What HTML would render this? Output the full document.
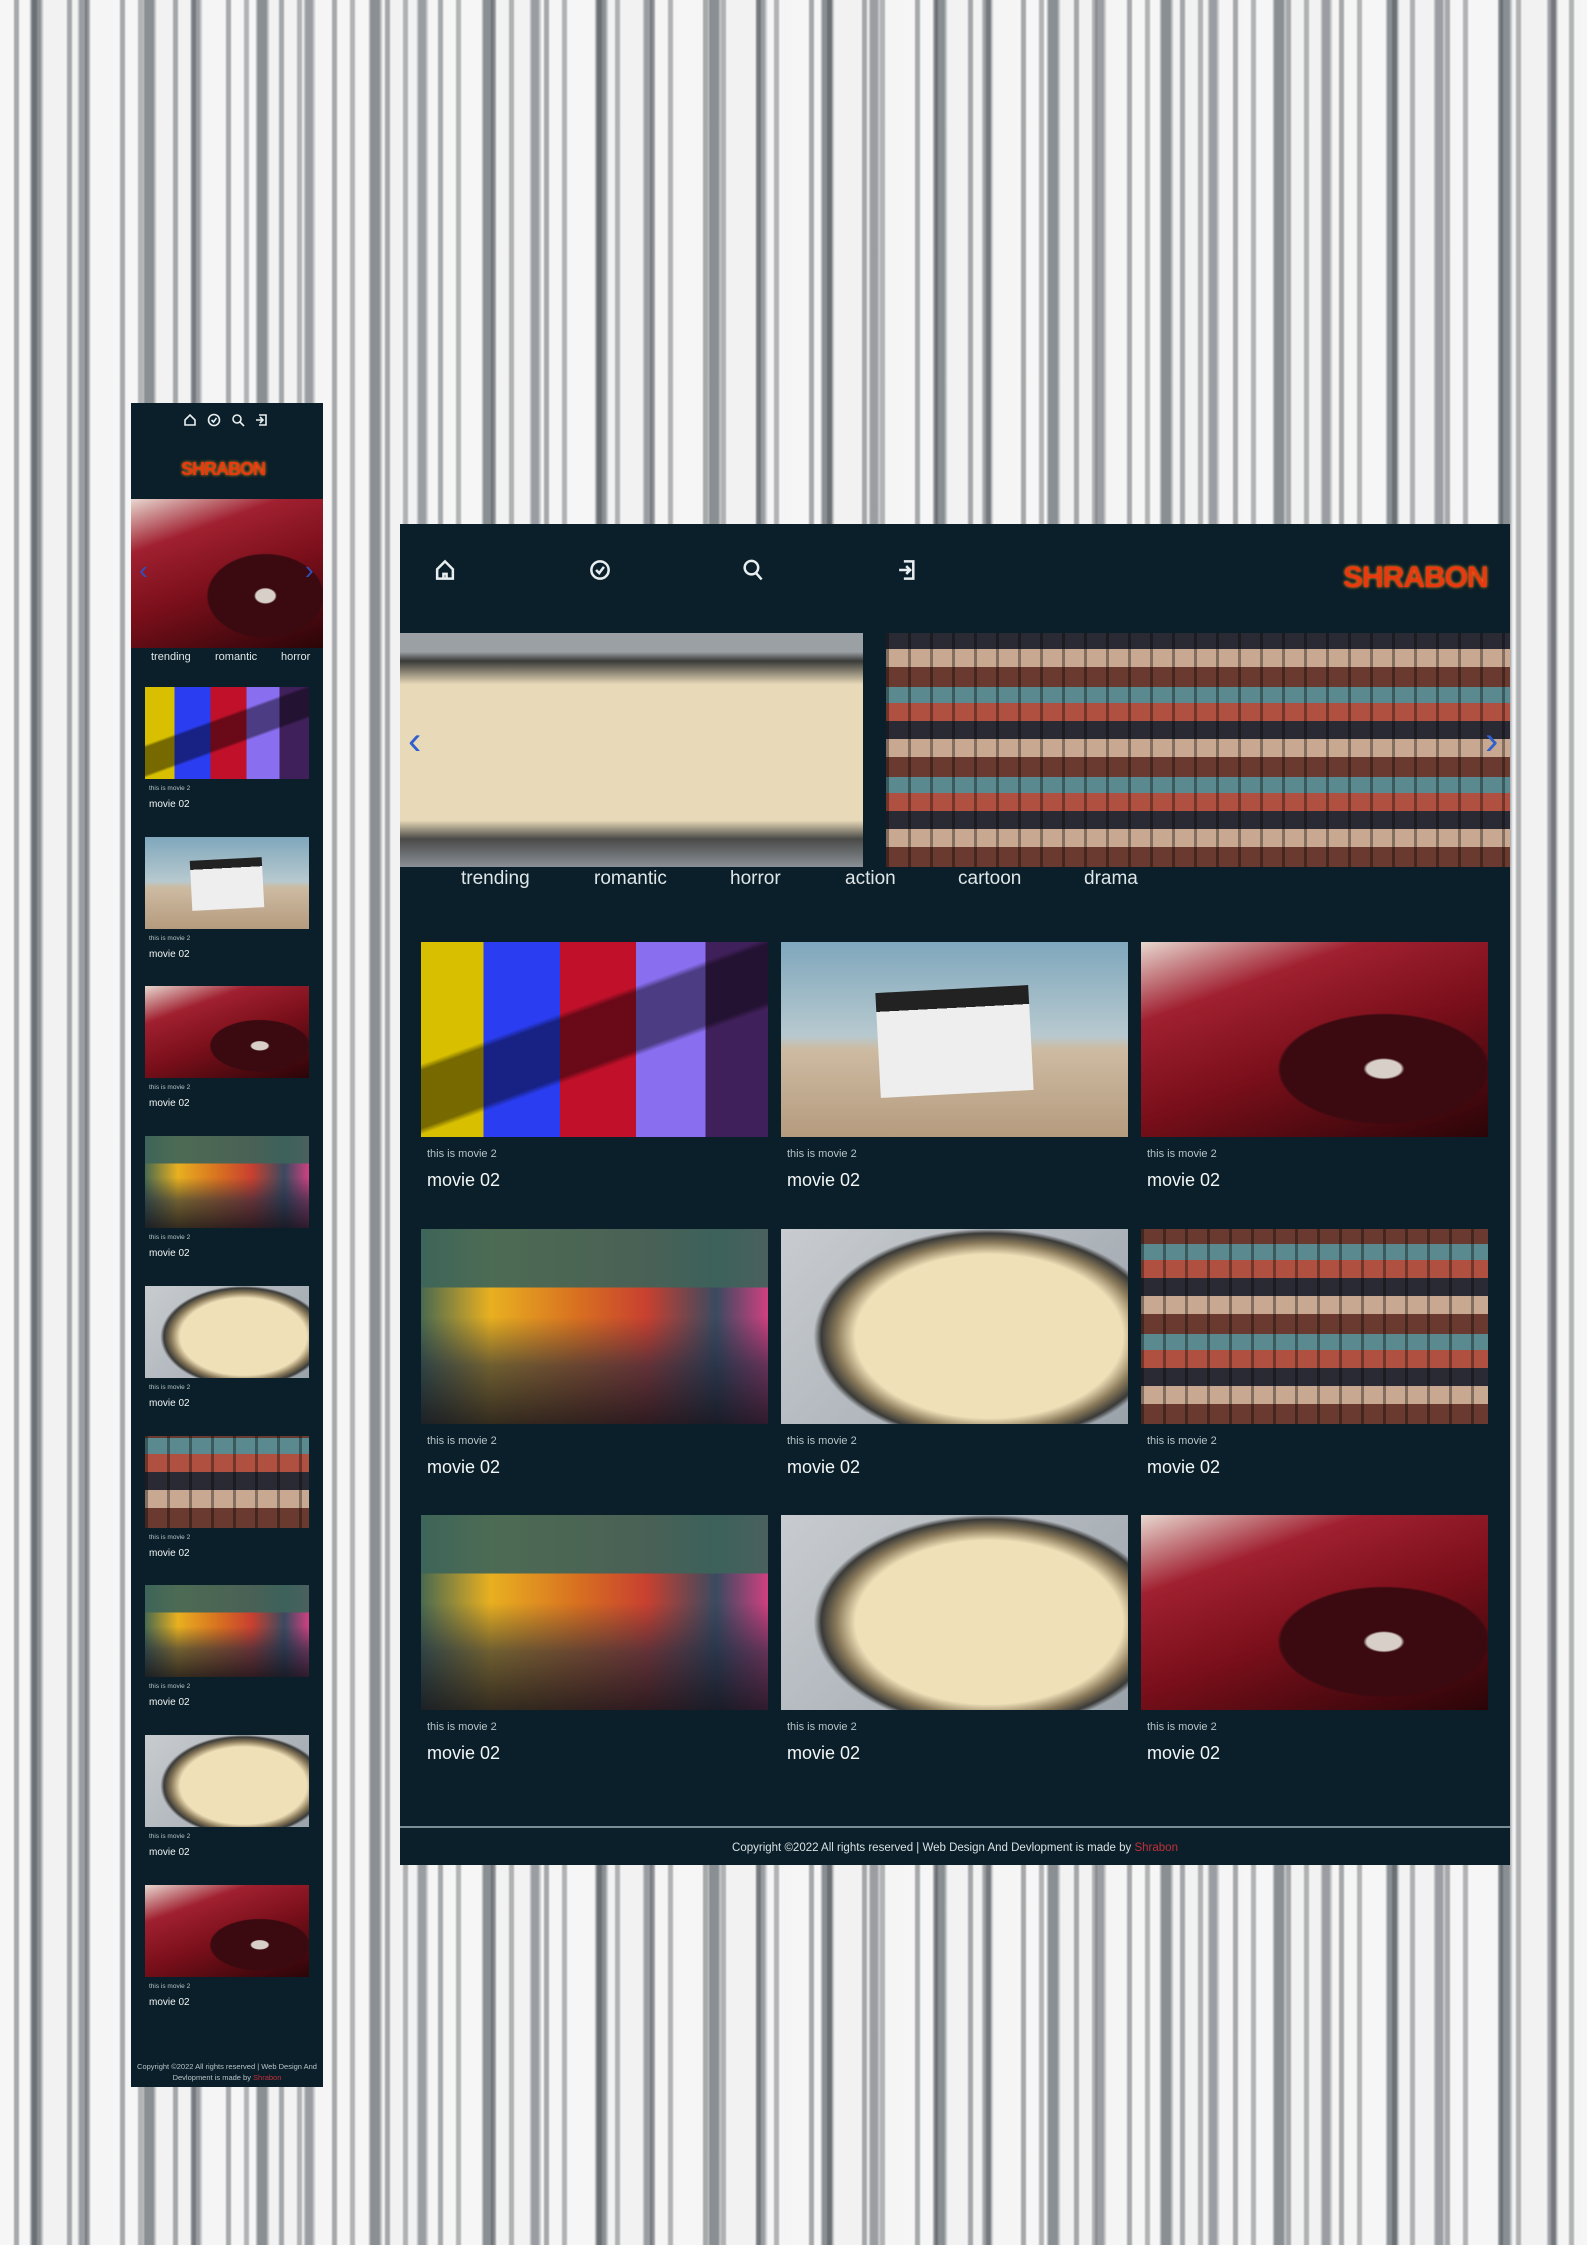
<!DOCTYPE html>
<html><head><meta charset="utf-8">
<style>
*{margin:0;padding:0;box-sizing:border-box}
body{width:1587px;height:2245px;overflow:hidden;position:relative;font-family:"Liberation Sans",sans-serif;
background:
repeating-linear-gradient(90deg,rgba(255,255,255,0) 0 13px,rgba(70,75,80,.45) 15px 18px,rgba(255,255,255,0) 20px 31px,rgba(50,55,60,.35) 33px 36px,rgba(255,255,255,0) 38px 53px),
repeating-linear-gradient(90deg,#f6f6f6 0 29px,#8a8f93 32px 40px,#f2f2f2 44px 77px,#9a9ea2 80px 86px,#f5f5f5 90px 113px);}
.panel{position:absolute;background:#0a1f29;color:#e8eef0}
.img{position:absolute;overflow:hidden}
.clap{background:linear-gradient(160deg,transparent 0 38%,rgba(0,0,0,.45) 40% 58%,transparent 60%),linear-gradient(90deg,#d8c000 0 18%,#2a3df0 18% 40%,#c0102a 40% 62%,#8a6ef0 62% 82%,#40205a 82%)}
.desert{background:linear-gradient(180deg,#7fa7bc 0,#b7c9cf 48%,#cdbba2 55%,#b59b7e 100%)}
.desert::after{content:"";position:absolute;left:28%;top:24%;width:44%;height:54%;background:linear-gradient(#222 0 18%,#eee 18% 100%);transform:rotate(-3deg)}
.proj{background:radial-gradient(ellipse at 70% 65%,#d8d0c8 0 5%,#3a0a10 6% 30%,transparent 31%),linear-gradient(160deg,#e8d8d0 0,#a02030 25%,#7a0f1a 55%,#2a0508 100%)}
.mad{background:linear-gradient(180deg,rgba(60,100,90,.9) 0 30%,rgba(0,0,0,0) 30% 45%,rgba(30,40,60,.6) 70%,rgba(20,20,30,.85) 100%),linear-gradient(90deg,#4a6a50 0,#e8b020 20%,#d87020 45%,#c84030 65%,#3a4a60 85%,#d04080 100%)}
.pop{background:radial-gradient(ellipse 55% 60% at 60% 55%,#efe0b8 0 70%,#8a7a5a 80%,#3a3a38 88%,transparent 92%),linear-gradient(135deg,#c8ccd0,#9aa2aa)}
.wall{background:repeating-linear-gradient(90deg,rgba(0,0,0,.35) 0 3px,transparent 3px 22px),repeating-linear-gradient(0deg,#6a3a30 0 20px,#c8a890 20px 38px,#2a2a34 38px 56px,#b05040 56px 74px,#5a8a90 74px 90px)}
.cap{position:absolute;color:#b8c4c8}
.ttl{position:absolute;color:#f4f6f6}
.cat{position:absolute;color:#dfe6e8}
svg.ic{position:absolute;fill:none;stroke:#e8eef0;stroke-width:1.6}
.logo{position:absolute;font-weight:bold;color:#e83a10;font-family:"Liberation Sans",sans-serif;text-shadow:0 0 3px #ff9a20,0 0 1px #600;letter-spacing:-1px}
</style></head><body>
<div class="panel" style="left:131px;top:403px;width:192px;height:1684px">
 <svg class="ic" style="left:52px;top:10px" width="14" height="14" viewBox="0 0 14 14"><path d="M2 7L7 2L12 7V12H2Z"/></svg>
 <svg class="ic" style="left:76px;top:10px" width="14" height="14" viewBox="0 0 14 14"><circle cx="7" cy="7" r="5.5"/><path d="M4.5 7L6.5 9L9.5 5"/></svg>
 <svg class="ic" style="left:100px;top:10px" width="14" height="14" viewBox="0 0 14 14"><circle cx="6" cy="6" r="4"/><path d="M9 9L13 13"/></svg>
 <svg class="ic" style="left:123px;top:10px" width="14" height="14" viewBox="0 0 14 14"><path d="M5 2H12V12H5M2 7H9M6 4L9 7L6 10"/></svg>
 <div class="logo" style="left:50px;top:56px;font-size:18px">SHRABON</div>
 <div class="img proj" style="left:0;top:96px;width:192px;height:149px"></div>
 <div class="cat" style="left:8px;color:#3050c0;font-size:26px;top:152px">‹</div>
 <div class="cat" style="left:174px;top:152px;color:#3050c0;font-size:26px">›</div>
 <div class="cat" style="left:20px;top:248px;font-size:11px">trending</div>
 <div class="cat" style="left:84px;top:248px;font-size:11px">romantic</div>
 <div class="cat" style="left:150px;top:248px;font-size:11px">horror</div>
 <div id="mcards"></div>
 <div class="cap" style="left:0;top:1658px;width:192px;text-align:center;font-size:7.5px;line-height:11px">Copyright ©2022 All rights reserved | Web Design And Devlopment is made by <span style="color:#c0303a">Shrabon</span></div>
</div>
<div class="panel" style="left:400px;top:524px;width:1110px;height:1341px">
 <svg class="ic" style="left:34px;top:34px" width="22" height="24" viewBox="0 0 14 15"><path d="M2 7L7 2L12 7V13H2Z M6 13V10H8V13"/></svg>
 <svg class="ic" style="left:189px;top:34px" width="22" height="24" viewBox="0 0 14 15"><circle cx="7" cy="7.5" r="5.5"/><path d="M4.5 7.5L6.5 9.5L9.5 5.5"/></svg>
 <svg class="ic" style="left:342px;top:34px" width="22" height="24" viewBox="0 0 14 15"><circle cx="6" cy="6" r="4.3"/><path d="M9 9.5L12.5 13.5"/></svg>
 <svg class="ic" style="left:496px;top:34px" width="22" height="24" viewBox="0 0 14 15"><path d="M5 2H11V13H5M2 7.5H9M6.5 5L9 7.5L6.5 10"/></svg>
 <div class="logo" style="left:943px;top:37px;font-size:30px">SHRABON</div>
 <div class="img pop" style="left:0;top:109px;width:463px;height:234px;background:linear-gradient(180deg,#9aa0a4 0 8%,#3a3a38 12%,#e8dab8 22% 80%,#4a4a48 88%,#8a9096 100%)"></div>
 <div class="img wall" style="left:486px;top:109px;width:624px;height:234px"></div>
 <div class="cat" style="left:8px;top:195px;color:#3060d0;font-size:40px">‹</div>
 <div class="cat" style="left:1085px;top:195px;color:#3060d0;font-size:40px">›</div>
 <div class="cat" style="left:61px;top:344px;font-size:19px">trending</div>
 <div class="cat" style="left:194px;top:344px;font-size:19px">romantic</div>
 <div class="cat" style="left:330px;top:344px;font-size:19px">horror</div>
 <div class="cat" style="left:445px;top:344px;font-size:19px">action</div>
 <div class="cat" style="left:558px;top:344px;font-size:19px">cartoon</div>
 <div class="cat" style="left:684px;top:344px;font-size:19px">drama</div>
 <div id="dcards"></div>
 <div style="position:absolute;left:0;top:1302px;width:1110px;height:2px;background:#7a8c94"></div>
 <div class="cap" style="left:0;top:1318px;width:1110px;text-align:center;font-size:11.5px;color:#d8e0e2">Copyright ©2022 All rights reserved | Web Design And Devlopment is made by <span style="color:#c0303a">Shrabon</span></div>
</div>
<script>
var mTypes=['clap','desert','proj','mad','pop','wall','mad','pop','proj'];
var dTypes=['clap','desert','proj','mad','pop','wall','mad','pop','proj'];
var mc=document.getElementById('mcards');
mTypes.forEach(function(t,i){
 var y=284+i*149.7;
 var im=document.createElement('div');im.className='img '+t;
 im.style.cssText='left:14px;top:'+y+'px;width:164px;height:92px';
 
 
 mc.appendChild(im);
 var c=document.createElement('div');c.className='cap';c.textContent='this is movie 2';
 c.style.cssText='left:18px;top:'+(y+98)+'px;font-size:6.5px';
 
 
 mc.appendChild(c);
 var h=document.createElement('div');h.className='ttl';h.textContent='movie 02';
 h.style.cssText='left:18px;top:'+(y+112)+'px;font-size:10px';
 
 
 mc.appendChild(h);
});
var dc=document.getElementById('dcards');
dTypes.forEach(function(t,i){
 var x=21+(i%3)*360,y=418+Math.floor(i/3)*286.5;
 var im=document.createElement('div');im.className='img '+t;
 im.style.cssText='left:'+x+'px;top:'+y+'px;width:347px;height:195px';
 
 
 dc.appendChild(im);
 var c=document.createElement('div');c.className='cap';c.textContent='this is movie 2';
 c.style.cssText='left:'+(x+6)+'px;top:'+(y+206)+'px;font-size:11px';
 
 
 dc.appendChild(c);
 var h=document.createElement('div');h.className='ttl';h.textContent='movie 02';
 h.style.cssText='left:'+(x+6)+'px;top:'+(y+228)+'px;font-size:18px';
 
 
 dc.appendChild(h);
});
</script>
</body></html>
